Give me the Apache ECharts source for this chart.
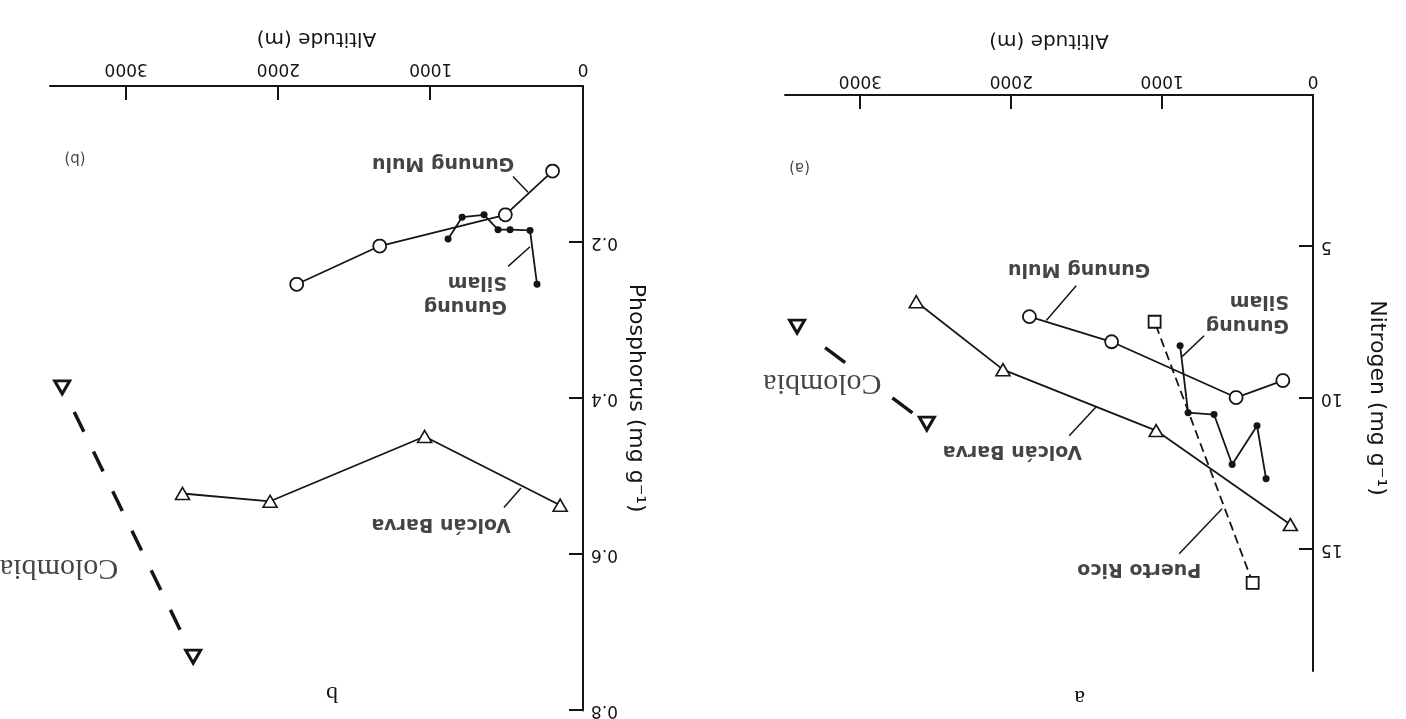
<!DOCTYPE html>
<html>
<head>
<meta charset="utf-8">
<script src="https://cdn.jsdelivr.net/npm/echarts@6/dist/echarts.min.js"></script>
<style>
  html, body { margin: 0; padding: 0; background: #fff; }
  #chart { position: absolute; left: 0; top: 0; width: 1406px; height: 719px; transform: rotate(180deg); }
</style>
</head>
<body>
<div id="chart"></div>
<script>
// Foliar nutrient concentration versus altitude on tropical mountains.
// (a) nitrogen, (b) phosphorus. Altitudes in metres.

const altTicks = [0, 1000, 2000, 3000];
const nTicks = [5, 10, 15];
const pTicks = [0.2, 0.4, 0.6, 0.8];

// Gunung Mulu
const altMulu = [200, 510, 1335, 1880];
const nMulu = [9.42, 9.98, 8.14, 7.31];
const pMulu = [0.109, 0.165, 0.205, 0.254];

// Gunung Silam
const altSilamN = [311, 371, 536, 656, 828, 881];
const nSilam = [12.66, 10.91, 12.19, 10.54, 10.48, 8.27];
const altSilamP = [302, 348, 479, 558, 650, 794, 886];
const pSilam = [0.254, 0.185, 0.184, 0.184, 0.165, 0.168, 0.196];

// Puerto Rico (nitrogen only)
const altPR = [400, 1050];
const nPR = [16.09, 7.48];

// Volcán Barva
const altVB = [150, 1040, 2055, 2630];
const nVB = [14.17, 11.07, 9.06, 6.82];
const pVB = [0.537, 0.449, 0.532, 0.522];

// Colombia
const altCol = [2560, 3420];
const nCol = [10.84, 7.64];
const pCol = [0.731, 0.386];

// Callout placement, in axis units: [altitude, value]
const calloutsA = {
  mulu:   { text: 'Gunung Mulu', at: [1550, 5.73], lead: [[1570, 6.29], [1768, 7.44]] },
  silam:  { text: 'Gunung\nSilam', at: [159, 7.19], lead: [[722, 7.94], [868, 8.63]], left: true },
  pr:     { text: 'Puerto Rico', at: [1152, 15.63], lead: [[887, 15.13], [603, 13.65]] },
  vb:     { text: 'Volcán Barva', at: [1993, 11.73], lead: [[1616, 11.24], [1437, 10.28]] },
  col:    { text: 'Colombia', at: [3252, 9.49], serif: true },
  tag:    { text: '(a)', at: [3404, 2.36], plain: true }
};
const calloutsB = {
  mulu:   { text: 'Gunung Mulu', at: [919, 0.098], lead: [[460, 0.116], [361, 0.136]] },
  silam:  { text: 'Gunung\nSilam', at: [499, 0.267], lead: [[492, 0.231], [348, 0.206]], left: true },
  vb:     { text: 'Volcán Barva', at: [932, 0.561], lead: [[519, 0.540], [407, 0.515]] },
  col:    { text: 'Colombia', at: [3440, 0.617], serif: true },
  tag:    { text: '(b)', at: [3336, 0.092], plain: true }
};

const INK = '#151515';
const SANS = '"DejaVu Sans", Verdana, sans-serif';
const SERIF = '"Liberation Serif", "Times New Roman", serif';

const zip = (xs, ys) => xs.map((x, i) => [x, ys[i]]);

function axisPair(gi, yMax, yTicks, yName, yNameGap, yNamePad, xLabelMargin, xNameGap, yFmt) {
  const x = {
    type: 'value', gridIndex: gi, min: 0, max: 3500,
    axisLine: { show: true, lineStyle: { color: INK, width: 2 } },
    axisTick: { show: true, inside: true, length: 14, customValues: [1000, 2000, 3000], lineStyle: { color: INK, width: 2 } },
    axisLabel: { customValues: altTicks, color: INK, fontSize: 17, fontFamily: SANS, margin: xLabelMargin, formatter: v => String(v) },
    splitLine: { show: false },
    name: 'Altitude (m)', nameLocation: 'middle', nameGap: xNameGap,
    nameTextStyle: { color: INK, fontSize: 20, fontFamily: SANS }
  };
  const y = {
    type: 'value', gridIndex: gi, min: 0, max: yMax,
    axisLine: { show: true, lineStyle: { color: INK, width: 2 } },
    axisTick: { show: true, inside: true, length: 14, customValues: yTicks, lineStyle: { color: INK, width: 2 } },
    axisLabel: { customValues: yTicks, color: INK, fontSize: 17, fontFamily: SANS, margin: 8, formatter: yFmt },
    splitLine: { show: false },
    name: yName, nameLocation: 'middle', nameGap: yNameGap,
    nameTextStyle: { color: INK, fontSize: 22, fontFamily: SANS, padding: yNamePad }
  };
  return [x, y];
}

const [xA, yA] = axisPair(0, 19, nTicks, 'Nitrogen (mg g⁻¹)', 53, [0, 0, 0, 30], 6, 45, v => String(v));
const [xB, yB] = axisPair(1, 0.8, pTicks, 'Phosphorus (mg g⁻¹)', 42, 0, 9, 38, v => v.toFixed(1));

function openSym(sym, size, bw, rot) {
  return {
    symbol: sym, symbolSize: size, symbolRotate: rot || 0,
    itemStyle: { color: '#fff', borderColor: INK, borderWidth: bw }
  };
}

function siteSeries(gi, data, style) {
  return Object.assign({
    type: 'line', xAxisIndex: gi, yAxisIndex: gi, data: data,
    silent: true, animation: false, z: 3,
    lineStyle: { color: INK, width: 1.8 }
  }, style);
}

function calloutSeries(gi, callouts) {
  const out = [];
  Object.keys(callouts).forEach(k => {
    const c = callouts[k];
    if (c.lead) {
      out.push({
        type: 'line', xAxisIndex: gi, yAxisIndex: gi, data: c.lead,
        symbol: 'none', silent: true, animation: false, z: 2,
        lineStyle: { color: INK, width: 1.5 }
      });
    }
    const font = c.serif
      ? { fontFamily: SERIF, fontSize: 30, fontWeight: 'normal', lineHeight: 30 }
      : c.plain
        ? { fontFamily: SANS, fontSize: 15, fontWeight: 'normal', lineHeight: 18 }
        : { fontFamily: SANS, fontSize: 19, fontWeight: 'bold', lineHeight: 24 };
    out.push({
      type: 'scatter', xAxisIndex: gi, yAxisIndex: gi, data: [c.at],
      symbolSize: 1, itemStyle: { color: 'rgba(0,0,0,0)' }, silent: true, animation: false, z: 4,
      label: Object.assign({
        show: true, position: 'inside', color: INK,
        align: c.left ? 'left' : 'center', verticalAlign: 'middle',
        formatter: () => c.text
      }, font)
    });
  });
  return out;
}

// Colombia connectors: long, sparse dashes (gap at the label in panel a)
const colDashA = [0, 18, 25, 59, 25, 400];
const colDashB = [0, 30, 22, 22, 22, 22, 22, 22, 22, 22, 22, 22, 22, 400];

function panelSeries(gi, vals) {
  return [
    siteSeries(gi, zip(altMulu, vals.mulu), openSym('circle', 13, 1.8)),
    siteSeries(gi, zip(vals.silamAlt, vals.silam), {
      symbol: 'circle', symbolSize: 7, itemStyle: { color: INK }
    }),
    vals.pr ? siteSeries(gi, zip(altPR, vals.pr), Object.assign(openSym('rect', 12, 1.8), {
      lineStyle: { color: INK, width: 1.8, type: [9, 5] }
    })) : null,
    siteSeries(gi, zip(altVB, vals.vb), openSym('triangle', [14, 12], 1.6, 180)),
    siteSeries(gi, zip(altCol, vals.col), Object.assign(openSym('triangle', [15, 13], 3), {
      lineStyle: { color: INK, width: 3.5, type: vals.colDash }
    }))
  ].filter(Boolean);
}

const chart = echarts.init(document.getElementById('chart'), null, { renderer: 'canvas' });
chart.setOption({
  backgroundColor: '#fff',
  animation: false,
  grid: [
    { left: 93, top: 48, width: 528, height: 576 },
    { left: 823, top: 7, width: 533, height: 626 }
  ],
  xAxis: [xA, xB],
  yAxis: [yA, yB],
  graphic: [
    { type: 'text', left: 321, top: 10, style: { text: 'a', font: '24px ' + SERIF, fill: INK } },
    { type: 'text', left: 1068, top: 14, style: { text: 'b', font: '24px ' + SERIF, fill: INK } }
  ],
  series: [].concat(
    panelSeries(0, { mulu: nMulu, silamAlt: altSilamN, silam: nSilam, pr: nPR, vb: nVB, col: nCol, colDash: colDashA }),
    panelSeries(1, { mulu: pMulu, silamAlt: altSilamP, silam: pSilam, vb: pVB, col: pCol, colDash: colDashB }),
    calloutSeries(0, calloutsA),
    calloutSeries(1, calloutsB)
  )
});
</script>
</body>
</html>
